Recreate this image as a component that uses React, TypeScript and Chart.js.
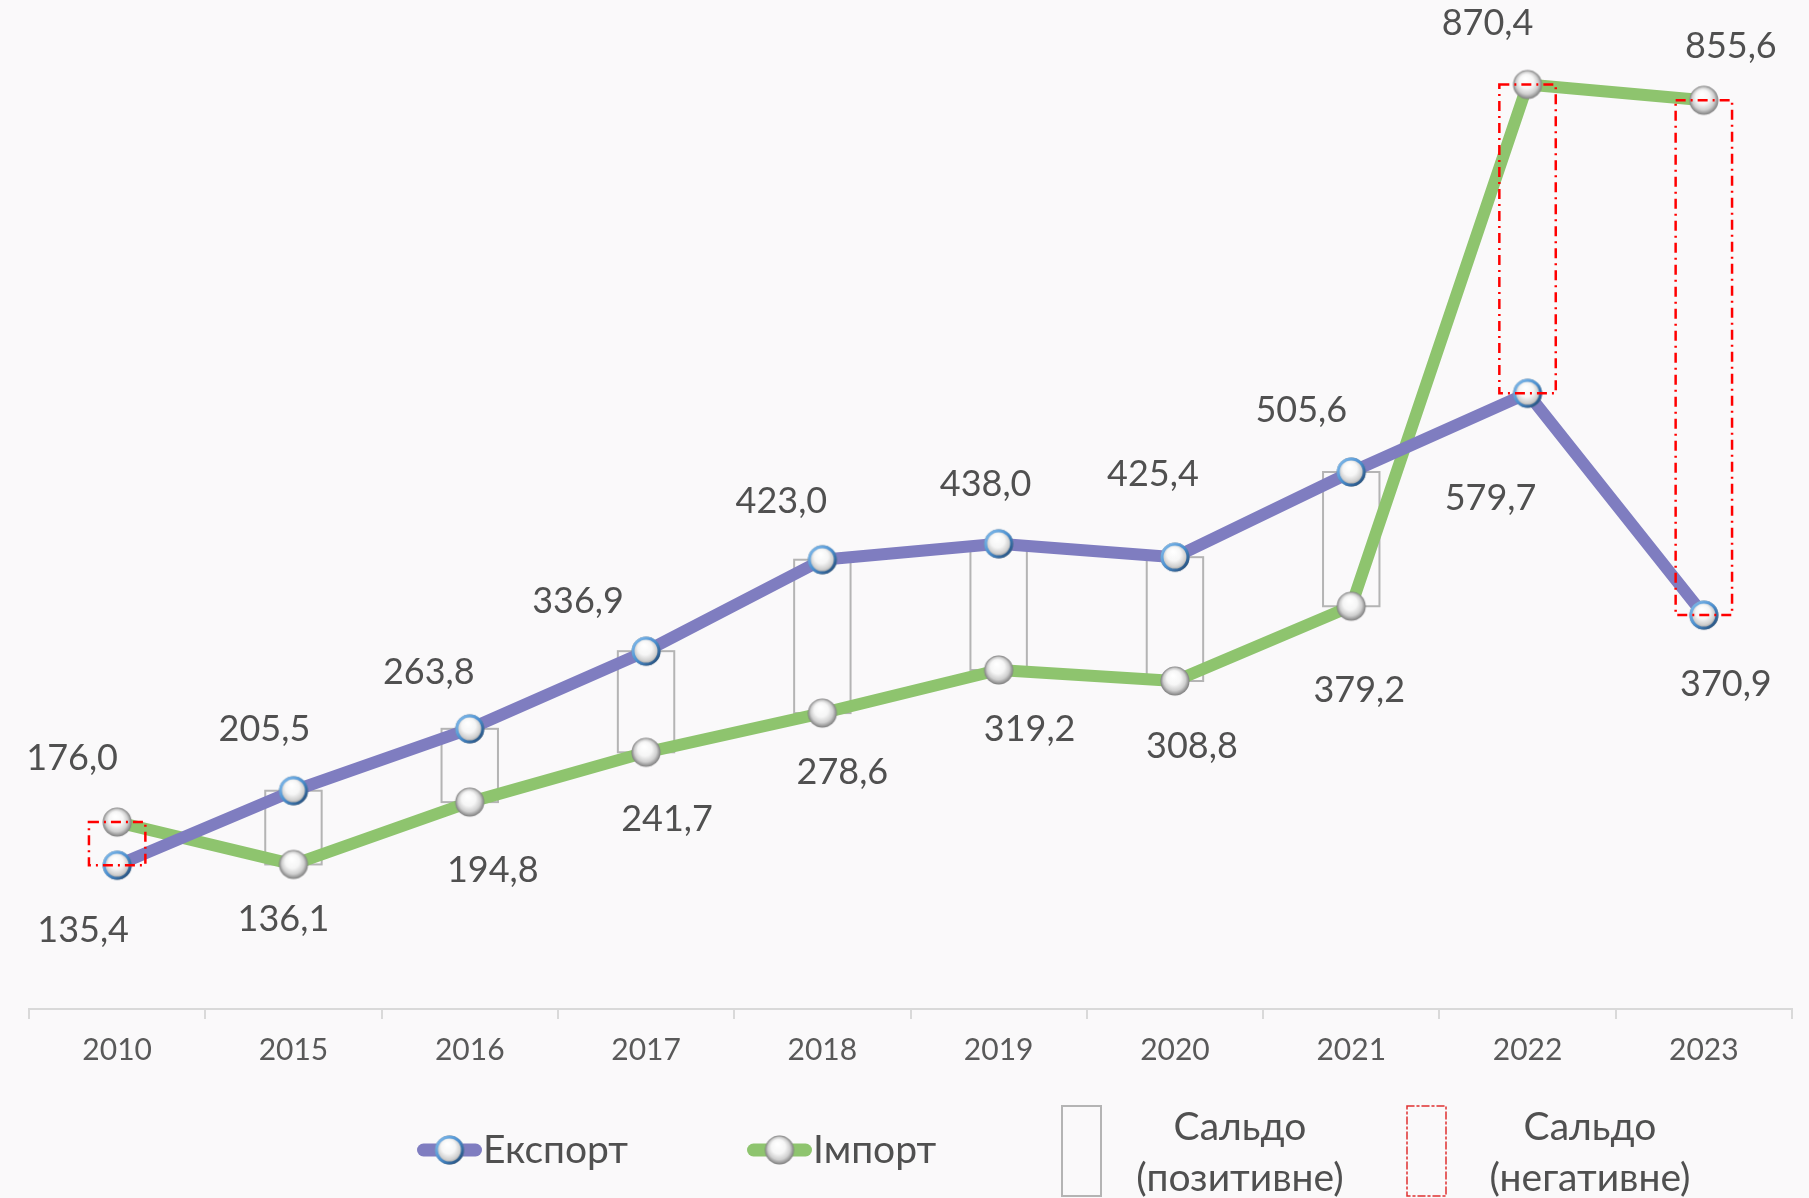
import { useEffect, useRef } from 'react';
import { Chart, registerables } from 'chart.js';

Chart.register(...registerables);

const years = ['2010', '2015', '2016', '2017', '2018', '2019', '2020', '2021', '2022', '2023'];
const exportValues = [135.4, 205.5, 263.8, 336.9, 423.0, 438.0, 425.4, 505.6, 579.7, 370.9];
const importValues = [176.0, 136.1, 194.8, 241.7, 278.6, 319.2, 308.8, 379.2, 870.4, 855.6];
const seriesNames = ['Експорт', 'Імпорт'];
const saldoNames = [
  ['Сальдо', '(позитивне)'],
  ['Сальдо', '(негативне)'],
];

// label placement offsets (px) relative to each point
const exportLabelOffsets = [[-34, 65], [-29, -61], [-41, -56], [-68, -50], [-41, -58], [-13, -59], [-22, -83], [-50, -62], [-37, 105], [22, 69]];
const importLabelOffsets = [[-45, -64], [-10, 55], [23, 68], [21, 67], [20, 59], [31, 59], [17, 65], [8, 84], [-40, -61], [27, -54]];

const EXPORT_COLOR = '#7f7dc0';
const IMPORT_COLOR = '#8ec46e';
const TEXT_COLOR = '#505050';
const FONT = 'Lato, "Open Sans", sans-serif';

const fmt = (v: number) => v.toFixed(1).replace('.', ',');

function makeSphere(rim: boolean): HTMLCanvasElement {
  const c = document.createElement('canvas');
  const size = 32;
  c.width = size;
  c.height = size;
  const ctx = c.getContext('2d')!;
  const cx = 16, cy = 16, r = 14.5;
  const g = ctx.createRadialGradient(cx - 2, cy - 6, 1, cx, cy, r);
  g.addColorStop(0, '#ffffff');
  g.addColorStop(0.45, '#f6f6f6');
  g.addColorStop(0.75, '#cfcfcf');
  g.addColorStop(1, '#7d7d7d');
  ctx.beginPath();
  ctx.arc(cx, cy, r, 0, Math.PI * 2);
  ctx.fillStyle = g;
  ctx.fill();
  if (rim) {
    const lg = ctx.createLinearGradient(cx - r, cy - r, cx + r, cy + r);
    lg.addColorStop(0, '#8cc3f0');
    lg.addColorStop(0.5, '#4a8fd0');
    lg.addColorStop(1, '#1d3f66');
    ctx.beginPath();
    ctx.arc(cx, cy, r - 1.5, 0, Math.PI * 2);
    ctx.strokeStyle = lg;
    ctx.lineWidth = 3;
    ctx.stroke();
  }
  return c;
}

function drawBoxes(chart: any, negative: boolean) {
  const ctx = chart.ctx;
  const x = chart.scales.x;
  const y = chart.scales.y;
  const step = x.getPixelForValue(1) - x.getPixelForValue(0);
  const hw = step * 0.16;
  years.forEach((_, i) => {
    const e = exportValues[i];
    const im = importValues[i];
    const neg = e < im;
    if (neg !== negative) return;
    const cx = x.getPixelForValue(i);
    const top = y.getPixelForValue(Math.max(e, im));
    const bot = y.getPixelForValue(Math.min(e, im));
    ctx.save();
    if (neg) {
      ctx.strokeStyle = '#ff0000';
      ctx.lineWidth = 2.5;
      ctx.setLineDash([10, 5, 2, 5]);
    } else {
      ctx.strokeStyle = '#b4b4b4';
      ctx.lineWidth = 2;
      ctx.setLineDash([]);
    }
    ctx.strokeRect(cx - hw, top, 2 * hw, bot - top);
    ctx.restore();
  });
}

export default function App() {
  const ref = useRef<HTMLCanvasElement | null>(null);

  useEffect(() => {
    if (!ref.current) return;
    const sphereExport = makeSphere(true);
    const sphereImport = makeSphere(false);

    const overlay = {
      id: 'overlay',
      beforeDatasetsDraw(chart: any) {
        drawBoxes(chart, false);
      },
      afterDatasetsDraw(chart: any) {
        drawBoxes(chart, true);
        const ctx = chart.ctx;
        const x = chart.scales.x;
        const y = chart.scales.y;
        ctx.save();
        ctx.font = `36px ${FONT}`;
        ctx.fillStyle = TEXT_COLOR;
        ctx.textAlign = 'center';
        ctx.textBaseline = 'middle';
        years.forEach((_, i) => {
          const px = x.getPixelForValue(i);
          const ey = y.getPixelForValue(exportValues[i]);
          const iy = y.getPixelForValue(importValues[i]);
          ctx.fillText(fmt(exportValues[i]), px + exportLabelOffsets[i][0], ey + exportLabelOffsets[i][1]);
          ctx.fillText(fmt(importValues[i]), px + importLabelOffsets[i][0], iy + importLabelOffsets[i][1]);
        });
        ctx.restore();
      },
      afterDraw(chart: any) {
        const ctx = chart.ctx;
        ctx.save();
        const ly = 1150;
        // series legend
        const items = [
          { color: EXPORT_COLOR, sphere: sphereExport, x0: 417, x1: 482, name: seriesNames[0] },
          { color: IMPORT_COLOR, sphere: sphereImport, x0: 747, x1: 812, name: seriesNames[1] },
        ];
        items.forEach((it) => {
          ctx.strokeStyle = it.color;
          ctx.lineWidth = 13;
          ctx.lineCap = 'round';
          ctx.beginPath();
          ctx.moveTo(it.x0 + 6.5, ly);
          ctx.lineTo(it.x1 - 6.5, ly);
          ctx.stroke();
          const mx = (it.x0 + it.x1) / 2;
          ctx.drawImage(it.sphere, mx - 16, ly - 16);
          ctx.font = `39px ${FONT}`;
          ctx.fillStyle = TEXT_COLOR;
          ctx.textAlign = 'left';
          ctx.textBaseline = 'middle';
          ctx.fillText(it.name, it.x1 + 1, ly);
        });
        // saldo legend
        const boxes = [
          { bx: 1062, tx: 1240, neg: false, lines: saldoNames[0] },
          { bx: 1407, tx: 1590, neg: true, lines: saldoNames[1] },
        ];
        boxes.forEach((b) => {
          ctx.save();
          if (b.neg) {
            ctx.strokeStyle = '#e03030';
            ctx.lineWidth = 1.5;
            ctx.setLineDash([7, 3, 2, 3]);
          } else {
            ctx.strokeStyle = '#b4b4b4';
            ctx.lineWidth = 2;
          }
          ctx.strokeRect(b.bx, 1106, 39, 90);
          ctx.restore();
          ctx.font = `39px ${FONT}`;
          ctx.fillStyle = TEXT_COLOR;
          ctx.textAlign = 'center';
          ctx.textBaseline = 'middle';
          ctx.fillText(b.lines[0], b.tx, 1127);
          ctx.fillText(b.lines[1], b.tx, 1178);
        });
        ctx.restore();
      },
    };

    const chart = new Chart(ref.current, {
      type: 'line',
      data: {
        labels: years,
        datasets: [
          {
            label: seriesNames[0],
            data: exportValues,
            borderColor: EXPORT_COLOR,
            backgroundColor: EXPORT_COLOR,
            borderWidth: 12,
            borderJoinStyle: 'round',
            tension: 0,
            pointStyle: sphereExport as any,
            pointRadius: 14,
            pointHoverRadius: 14,
            clip: false as any,
          },
          {
            label: seriesNames[1],
            data: importValues,
            borderColor: IMPORT_COLOR,
            backgroundColor: IMPORT_COLOR,
            borderWidth: 12,
            borderJoinStyle: 'round',
            tension: 0,
            pointStyle: sphereImport as any,
            pointRadius: 14,
            pointHoverRadius: 14,
            clip: false as any,
          },
        ],
      },
      options: {
        responsive: false,
        animation: false,
        devicePixelRatio: 1,
        layout: { autoPadding: false, padding: { left: 29, right: 17, top: 0, bottom: 0 } },
        plugins: {
          legend: { display: false },
          tooltip: { enabled: false },
        },
        scales: {
          x: {
            type: 'category',
            offset: true,
            grid: {
              offset: true,
              drawOnChartArea: false,
              drawTicks: true,
              tickLength: 10,
              color: '#d9d9d9',
              lineWidth: 2,
            },
            border: { display: true, color: '#d9d9d9', width: 2 },
            ticks: {
              color: '#595959',
              font: { family: FONT, size: 30 },
              padding: 13,
              maxRotation: 0,
              autoSkip: false,
            },
            afterFit(s: any) {
              s.height = 189;
            },
          },
          y: { display: false, min: 0, max: 950 },
        },
      },
      plugins: [overlay],
    });
    return () => chart.destroy();
  }, []);

  return (
    <div style={{ position: 'fixed', left: 0, top: 0, width: 1809, height: 1198, background: '#faf9fa' }}>
      <canvas ref={ref} width={1809} height={1198} style={{ display: 'block', width: 1809, height: 1198 }} />
    </div>
  );
}
